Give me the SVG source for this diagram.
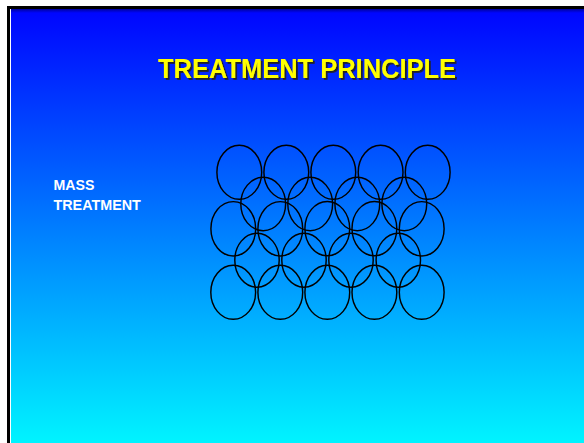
<svg xmlns="http://www.w3.org/2000/svg" width="584" height="443" viewBox="0 0 584 443">
  <defs>
    <linearGradient id="slideBg" gradientUnits="userSpaceOnUse" x1="0" y1="9" x2="0" y2="443">
      <stop offset="0" stop-color="#0004FF"/>
      <stop offset="1" stop-color="#00F4FF"/>
    </linearGradient>
    <linearGradient id="topShade" x1="0" y1="0" x2="0" y2="1">
      <stop offset="0" stop-color="#000060" stop-opacity="0.6"/>
      <stop offset="1" stop-color="#000060" stop-opacity="0"/>
    </linearGradient>
    <!-- hard drop shadow behind the heading -->
    <filter id="titleShadow" x="-5%" y="-20%" width="110%" height="150%">
      <feDropShadow dx="1.8" dy="1.8" stdDeviation="0.2" flood-color="#202020" flood-opacity="1"/>
    </filter>
  </defs>
  <style>
    .ring { fill: none; stroke: #000; stroke-width: 1.45; }
    .title { font-family: "Liberation Sans", Arial, sans-serif; font-weight: bold; font-size: 27px; fill: #FFFF00; }
    .label { font-family: "Liberation Sans", Arial, sans-serif; font-weight: bold; font-size: 14px; fill: #FFFFFF; }
  </style>

  <!-- page and slide frame -->
  <rect x="0" y="0" width="584" height="443" fill="#FFFFFF"/>
  <rect x="7" y="6" width="600" height="460" fill="#000000"/>
  <rect x="10" y="9" width="600" height="460" fill="#FFFFFF"/>
  <rect x="11" y="9" width="600" height="460" fill="url(#slideBg)"/>
  <rect x="11" y="9" width="600" height="4" fill="url(#topShade)"/>

  <!-- heading -->
  <g id="title" filter="url(#titleShadow)">
    <text class="title" x="307" y="77.5" text-anchor="middle" textLength="298" lengthAdjust="spacingAndGlyphs">TREATMENT PRINCIPLE</text>
  </g>

  <!-- side label -->
  <g id="label-mass-treatment">
    <text class="label" x="53.5" y="190" textLength="41" lengthAdjust="spacingAndGlyphs">MASS</text>
    <text class="label" x="53.5" y="210" textLength="87.3" lengthAdjust="spacingAndGlyphs">TREATMENT</text>
  </g>

  <!-- overlapping rings, five rows -->
  <g id="rings">
    <g id="row1">
      <ellipse class="ring" cx="239.3" cy="172.3" rx="22.4" ry="27"/>
      <ellipse class="ring" cx="286.3" cy="172.3" rx="22.4" ry="27"/>
      <ellipse class="ring" cx="333.3" cy="172.3" rx="22.4" ry="27"/>
      <ellipse class="ring" cx="380.6" cy="172.3" rx="22.4" ry="27"/>
      <ellipse class="ring" cx="427.7" cy="172.3" rx="22.4" ry="27"/>
    </g>
    <g id="row2">
      <ellipse class="ring" cx="263.2" cy="204" rx="22.4" ry="26.7"/>
      <ellipse class="ring" cx="310.2" cy="204" rx="22.4" ry="26.7"/>
      <ellipse class="ring" cx="357.3" cy="204" rx="22.4" ry="26.7"/>
      <ellipse class="ring" cx="404.3" cy="204" rx="22.4" ry="26.7"/>
    </g>
    <g id="row3">
      <ellipse class="ring" cx="233.3" cy="228.8" rx="22.4" ry="27.2"/>
      <ellipse class="ring" cx="280.3" cy="228.8" rx="22.4" ry="27.2"/>
      <ellipse class="ring" cx="327.3" cy="228.6" rx="22.4" ry="27.2"/>
      <ellipse class="ring" cx="374.4" cy="228.6" rx="22.4" ry="27.2"/>
      <ellipse class="ring" cx="421.7" cy="228.8" rx="22.4" ry="27.2"/>
    </g>
    <g id="row4">
      <ellipse class="ring" cx="257" cy="260.2" rx="22.2" ry="27"/>
      <ellipse class="ring" cx="304" cy="260.2" rx="22.2" ry="27"/>
      <ellipse class="ring" cx="351" cy="260.2" rx="22.2" ry="27"/>
      <ellipse class="ring" cx="398.3" cy="260.2" rx="22.2" ry="27"/>
    </g>
    <g id="row5">
      <ellipse class="ring" cx="233.2" cy="292.3" rx="22.4" ry="27"/>
      <ellipse class="ring" cx="280.3" cy="292.3" rx="22.4" ry="27"/>
      <ellipse class="ring" cx="327.3" cy="292.3" rx="22.4" ry="27"/>
      <ellipse class="ring" cx="374.4" cy="292.3" rx="22.4" ry="27"/>
      <ellipse class="ring" cx="421.7" cy="292.3" rx="22.4" ry="27"/>
    </g>
  </g>
</svg>
